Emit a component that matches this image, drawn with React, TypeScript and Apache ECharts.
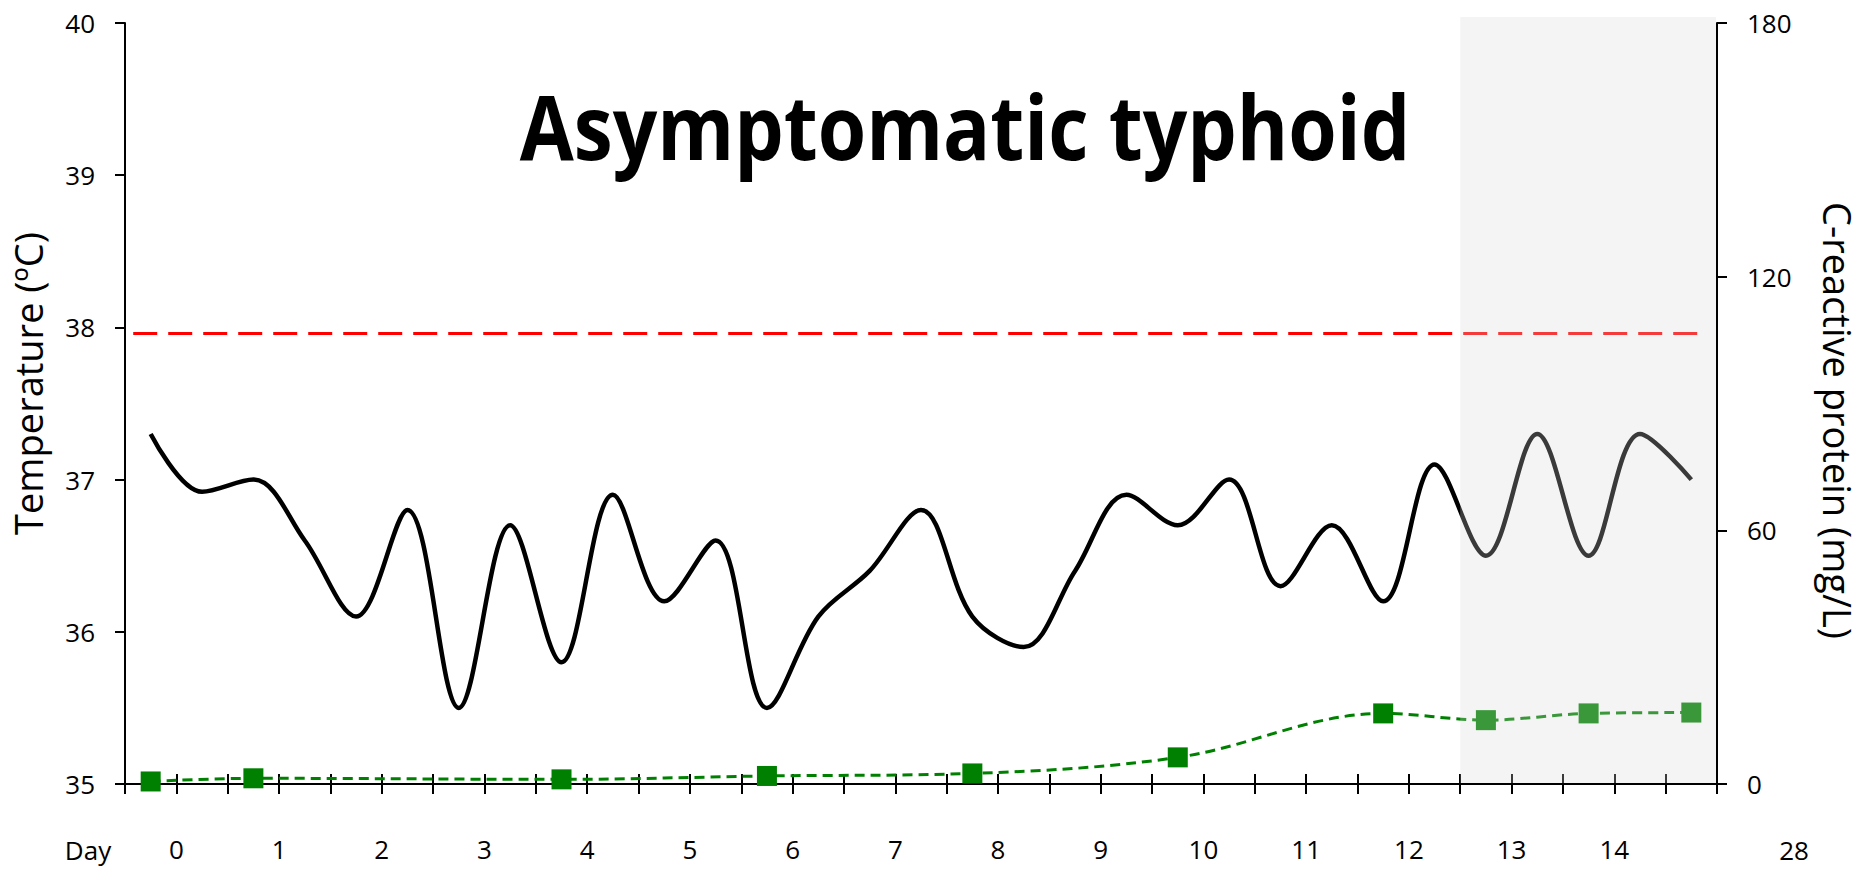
import React, { useEffect, useRef } from "react";
import * as echarts from "echarts";

// ---- data ----
const tempDays = [-0.25, 0.25, 0.75, 1.25, 1.75, 2.25, 2.75, 3.25, 3.75, 4.25, 4.75, 5.25, 5.75, 6.25, 6.75, 7.25, 7.75, 8.25, 8.75, 9.25, 9.75, 10.25, 10.75, 11.25, 11.75, 12.25, 12.75, 13.25, 13.75, 14.25, 14.75];
const temperature = [37.3, 36.92, 37.0, 36.6, 36.1, 36.8, 35.5, 36.7, 35.8, 36.9, 36.2, 36.6, 35.5, 36.1, 36.4, 36.8, 36.1, 35.9, 36.4, 36.9, 36.7, 37.0, 36.3, 36.7, 36.2, 37.1, 36.5, 37.3, 36.5, 37.3, 37.0];
const crpDays = [-0.25, 0.75, 3.75, 5.75, 7.75, 9.75, 11.75, 12.75, 13.75, 14.75];
const crpValues = [0.6, 1.35, 1.1, 1.9, 2.5, 6.3, 16.7, 15.1, 16.7, 16.9];
const feverDays = [-0.42, 14.9];
const feverLevel = [37.96, 37.96];
const dayLabels = [0, 1, 2, 3, 4, 5, 6, 7, 8, 9, 10, 11, 12, 13, 14];
const extraDayLabel = "28";
const shadeDays = [12.5, 15];
const tempTicks = { min: 35, max: 40, interval: 1 };
const crpTicks = { min: 0, max: 180, interval: 60 };
const titleText = "Asymptomatic typhoid";
const leftName = "Temperature (ºC)";
const rightName = "C-reactive protein (mg/L)";

const FONT = "'Open Sans', sans-serif";

export default function App() {
  const ref = useRef<HTMLDivElement>(null);
  useEffect(() => {
    if (!ref.current) return;
    const chart = echarts.init(ref.current, undefined, { renderer: "svg" });
    const axisCommon = {
      axisLine: { show: true, onZero: false, lineStyle: { color: "#000", width: 2 } },
      axisTick: { show: true, length: 10, lineStyle: { color: "#000", width: 2 } },
      splitLine: { show: false },
    };
    const labelStyle = { fontSize: 26, lineHeight: 26, color: "#000", fontFamily: FONT };
    chart.setOption({
      animation: false,
      backgroundColor: "#fff",
      grid: { left: 125, right: 152, top: 23, bottom: 86, containLabel: false },
      xAxis: [
        {
          type: "value", min: -0.5, max: 15, interval: 0.5, position: "bottom",
          ...axisCommon,
          axisLabel: {
            formatter: (v: number) => (dayLabels.indexOf(v) >= 0 ? String(v) : ""),
            margin: 52, ...labelStyle,
          },
        },
        {
          type: "value", min: -0.5, max: 15, interval: 0.5, position: "bottom",
          axisLine: { show: false, onZero: false },
          axisTick: { show: true, inside: true, length: 10, lineStyle: { color: "#000", width: 2 } },
          axisLabel: { show: false },
          splitLine: { show: false },
        },
      ],
      yAxis: [
        {
          type: "value", position: "left", ...tempTicks,
          ...axisCommon,
          axisLabel: { margin: 30, ...labelStyle },
        },
        {
          type: "value", position: "right", ...crpTicks,
          ...axisCommon,
          axisLabel: { margin: 30, ...labelStyle },
        },
      ],
      series: [
        {
          name: "Temperature", type: "line", xAxisIndex: 0, yAxisIndex: 0,
          data: tempDays.map((d, i) => [d, temperature[i]]),
          smooth: 0.35, showSymbol: false, symbol: "none",
          lineStyle: { color: "#000", width: 4.5 }, z: 3,
        },
        {
          name: "Fever threshold", type: "line", xAxisIndex: 0, yAxisIndex: 0,
          data: feverDays.map((d, i) => [d, feverLevel[i]]),
          symbol: "none",
          lineStyle: { color: "#ff0000", width: 3, type: [24, 11] }, z: 2,
        },
        {
          name: "CRP", type: "line", xAxisIndex: 0, yAxisIndex: 1,
          data: crpDays.map((d, i) => [d, crpValues[i]]),
          smooth: 0.35, symbol: "rect", symbolSize: 20,
          itemStyle: { color: "#008000" },
          lineStyle: { color: "#008000", width: 3, type: [10, 6] }, z: 4,
        },
      ],
    });

    const x0 = chart.convertToPixel({ xAxisIndex: 0 }, shadeDays[0]) as number;
    const x1 = chart.convertToPixel({ xAxisIndex: 0 }, shadeDays[1]) as number;
    const yTop = (chart.convertToPixel({ yAxisIndex: 0 }, tempTicks.max) as number) - 6;
    const yBot = chart.convertToPixel({ yAxisIndex: 0 }, tempTicks.min) as number;
    const xExtra = chart.convertToPixel({ xAxisIndex: 0 }, 15.75) as number;
    const yMid = (yTop + yBot) / 2;

    chart.setOption({
      graphic: [
        {
          type: "rect", z: 100,
          shape: { x: x0, y: yTop, width: x1 - x0 - 1, height: yBot - yTop - 1 },
          style: { fill: "rgba(214,214,214,0.27)" },
          silent: true,
        },
        {
          type: "text", x: 965, y: 125, scaleX: 0.87, z: 110,
          style: { text: titleText, font: `bold 90px ${FONT}`, fill: "#000", align: "center", verticalAlign: "middle" },
        },
        {
          type: "text", x: 28, y: yMid - 17, rotation: Math.PI / 2, z: 110,
          style: { text: leftName, font: `38px ${FONT}`, fill: "#000", align: "center", verticalAlign: "middle" },
        },
        {
          type: "text", x: 1838, y: yMid + 20, rotation: -Math.PI / 2, z: 110,
          style: { text: rightName, font: `38px ${FONT}`, fill: "#000", align: "center", verticalAlign: "middle" },
        },
        {
          type: "text", x: 88, y: 850, z: 110,
          style: { text: "Day", font: `26px ${FONT}`, lineHeight: 26, fill: "#000", align: "center", verticalAlign: "middle" },
        },
        {
          type: "text", x: xExtra, y: 850, z: 110,
          style: { text: extraDayLabel, font: `26px ${FONT}`, lineHeight: 26, fill: "#000", align: "center", verticalAlign: "middle" },
        },
      ],
    });
    return () => chart.dispose();
  }, []);
  return (
    <div
      ref={ref}
      style={{ position: "fixed", left: 0, top: 0, width: 1869, height: 870, background: "#fff" }}
    />
  );
}
